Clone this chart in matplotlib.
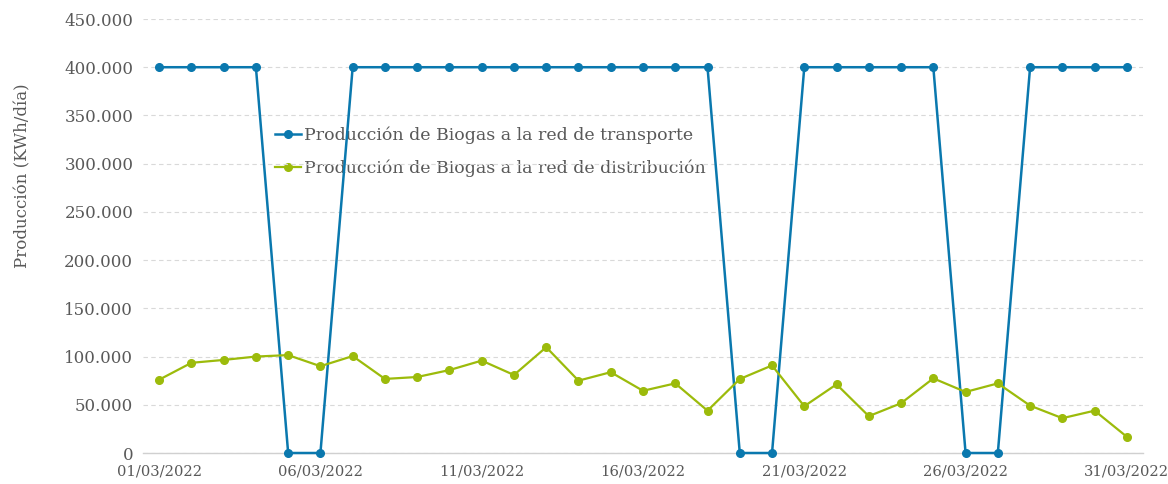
import numpy as np
import matplotlib
matplotlib.use("Agg")
import matplotlib.pyplot as plt
from matplotlib.ticker import FuncFormatter

# daily data, March 2022 (day of month)
days = list(range(1, 32))
transporte = [400000, 400000, 400000, 400000, 0, 0, 400000, 400000, 400000, 400000,
              400000, 400000, 400000, 400000, 400000, 400000, 400000, 400000, 0, 0,
              400000, 400000, 400000, 400000, 400000, 0, 0, 400000, 400000, 400000,
              400000]
distribucion = [76000, 93500, 96500, 100000, 101500, 90000, 100500, 76800, 78800, 86000,
                95800, 80900, 109700, 75000, 83800, 64500, 72200, 43900, 76700, 90800,
                48500, 71200, 38200, 51600, 77400, 63300, 72200, 49100, 36100, 43900,
                16800]
tick_days = [1, 6, 11, 16, 21, 26, 31]
tick_labels = [f"{d:02d}/03/2022" for d in tick_days]

BLUE = "#0a78ae"
GREEN = "#9cbb0b"
TXT = "#595959"

plt.rcParams["font.family"] = ["DejaVu Serif"]

fig = plt.figure(figsize=(11.68, 4.84), dpi=100)
ax = fig.add_axes([143 / 1168, 31 / 484, 1000 / 1168, 434 / 484])

ax.plot(days, transporte, "-o", color=BLUE, lw=1.8, ms=5.5, zorder=3, clip_on=False,
        label="Producción de Biogas a la red de transporte")
ax.plot(days, distribucion, "-o", color=GREEN, lw=1.6, ms=5.5, zorder=3, clip_on=False,
        label="Producción de Biogas a la red de distribución")

ax.set_xlim(0.5, 31.5)
ax.set_ylim(0, 450000)
ax.set_yticks(np.arange(0, 450001, 50000))
ax.yaxis.set_major_formatter(FuncFormatter(lambda v, p: f"{int(v):,}".replace(",", ".")))
ax.set_xticks(tick_days)
ax.set_xticklabels(tick_labels)

ax.grid(axis="y", color="#d9d9d9", linestyle=(0, (4, 3)), lw=0.8, zorder=0)
for s in ["top", "right", "left"]:
    ax.spines[s].set_visible(False)
ax.spines["bottom"].set_color("#d0d0d0")
ax.spines["bottom"].set_linewidth(1.0)
ax.tick_params(length=0, labelcolor=TXT)
ax.tick_params(axis="y", labelsize=12, pad=7)
ax.tick_params(axis="x", labelsize=10.6, pad=8)

ax.set_ylabel("Producción (KWh/día)", color=TXT, fontsize=12)
ax.yaxis.set_label_coords(-0.112, 0.64)

leg = ax.legend(loc="upper left", bbox_to_anchor=(0.132, 0.752), frameon=False,
                fontsize=12.5, handlelength=1.5, handletextpad=0.15,
                labelspacing=0.9, borderpad=0, borderaxespad=0, labelcolor=TXT)
leg.set_zorder(1)

fig.savefig("out.png", dpi=100)
